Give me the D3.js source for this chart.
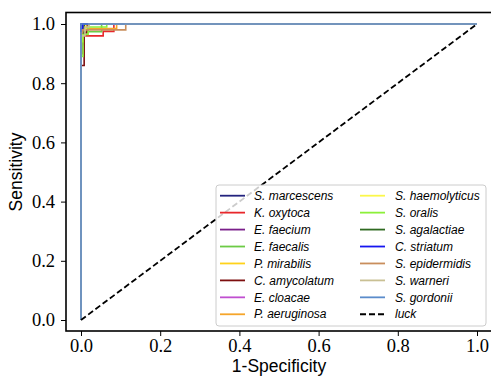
<!DOCTYPE html>
<html><head><meta charset="utf-8">
<script src="https://cdn.jsdelivr.net/npm/d3@7"></script>
<style>body{margin:0;background:#fff;}svg{display:block;}</style>
</head><body>
<svg id="chart" width="491" height="378"></svg>
<script>
// ---- data ----
const classes = ["S. marcescens","K. oxytoca","E. faecium","E. faecalis","P. mirabilis","C. amycolatum","E. cloacae","P. aeruginosa","S. haemolyticus","S. oralis","S. agalactiae","C. striatum","S. epidermidis","S. warneri","S. gordonii"];
const colors = ["#23237e","#e8272b","#7a1f8a","#6ccb45","#ffd21a","#7d0f0f","#c04fd0","#f5a52a","#fbf74a","#8cf03a","#2f6a21","#1616f0","#c98e5c","#c9c094","#5b8ccb"];
const fprs = [
  [0,0,1],
  [0,0,0.005,0.005,0.056,0.056,0.083,0.083,1],
  [0,0,0.003,0.003,0.01,0.01,1],
  [0,0,0.006,0.006,0.052,0.052,1],
  [0,0,0.004,0.004,0.02,0.02,1],
  [0,0,0.008,0.008,0.015,0.015,1],
  [0,0,0.005,0.005,1],
  [0,0,0.003,0.003,0.09,0.09,1],
  [0,0,0.004,0.004,0.012,0.012,1],
  [0,0,0.005,0.005,0.018,0.018,0.065,0.065,1],
  [0,0,0.008,0.008,1],
  [0,0,0.004,0.004,1],
  [0,0,0.004,0.004,0.113,0.113,1],
  [0,0,0.01,0.01,0.02,0.02,1],
  [0,0,1]
];
const tprs = [
  [0,1,1],
  [0,0.93,0.93,0.96,0.96,0.975,0.975,1,1],
  [0,0.9,0.9,0.99,0.99,1,1],
  [0,0.95,0.95,0.974,0.974,1,1],
  [0,0.97,0.97,0.99,0.99,1,1],
  [0,0.86,0.86,0.97,0.97,1,1],
  [0,0.98,0.98,1,1],
  [0,0.96,0.96,0.985,0.985,1,1],
  [0,0.94,0.94,0.985,0.985,1,1],
  [0,0.89,0.89,0.965,0.965,0.99,0.99,1,1],
  [0,0.97,0.97,1,1],
  [0,0.985,0.985,1,1],
  [0,0.97,0.97,0.98,0.98,1,1],
  [0,0.96,0.96,0.99,0.99,1,1],
  [0,1,1]
];
const luckX = [0,1], luckY = [0,1];
const xTicks = [0,0.2,0.4,0.6,0.8,1.0];
const yTicks = [0,0.2,0.4,0.6,0.8,1.0];

// ---- layout ----
const svg = d3.select("#chart");
const box = {left:66, top:12.5, right:492, bottom:331};
const x = d3.scaleLinear().domain([0,1]).range([81,477]);
const y = d3.scaleLinear().domain([0,1]).range([320,24]);

const line = d3.line().x(d=>x(d[0])).y(d=>y(d[1]));

// curves
classes.forEach((c,i)=>{
  const pts = fprs[i].map((f,j)=>[f,tprs[i][j]]);
  svg.append("path").attr("d",line(pts)).attr("fill","none")
    .attr("stroke",colors[i]).attr("stroke-width",1.6).attr("stroke-linejoin","miter");
});
// luck
svg.append("path").attr("d",line(luckX.map((v,j)=>[v,luckY[j]])))
  .attr("fill","none").attr("stroke","#000").attr("stroke-width",1.8).attr("stroke-dasharray","6,3");

// axes
const xAxis = d3.axisBottom(x).tickValues(xTicks).tickFormat(d3.format(".1f")).tickSize(5).tickPadding(3);
const yAxis = d3.axisLeft(y).tickValues(yTicks).tickFormat(d3.format(".1f")).tickSize(5).tickPadding(6);
const gx = svg.append("g").attr("transform",`translate(0,${box.bottom})`).call(xAxis);
const gy = svg.append("g").attr("transform",`translate(${box.left},0)`).call(yAxis);
[gx,gy].forEach(g=>{
  g.select(".domain").remove();
  g.selectAll("text").attr("font-family","'Liberation Serif','Times New Roman',serif").attr("font-size",18.5).attr("fill","#000");
  g.selectAll("line").attr("stroke","#000").attr("stroke-width",1);
});
// frame
svg.append("rect").attr("x",box.left).attr("y",box.top)
  .attr("width",box.right-box.left).attr("height",box.bottom-box.top)
  .attr("fill","none").attr("stroke","#000").attr("stroke-width",1.6);

// titles
svg.append("text").attr("x",(box.left+box.right)/2).attr("y",372).attr("text-anchor","middle")
  .attr("font-family","'Liberation Sans',Arial,sans-serif").attr("font-size",17.5).text("1-Specificity");
svg.append("text").attr("transform",`translate(22,${(y(0)+y(1))/2}) rotate(-90)`).attr("text-anchor","middle")
  .attr("font-family","'Liberation Sans',Arial,sans-serif").attr("font-size",17.5).text("Sensitivity");

// legend
const lg = svg.append("g");
lg.append("rect").attr("x",216).attr("y",185).attr("width",270).attr("height",141).attr("rx",3)
  .attr("fill","#fff").attr("fill-opacity",0.8).attr("stroke","#cccccc").attr("stroke-width",1);
const entries = classes.map((c,i)=>({label:c,color:colors[i],dash:null})).concat([{label:"luck",color:"#000",dash:"6,3"}]);
entries.forEach((e,i)=>{
  const col = Math.floor(i/8), row = i%8;
  const lx = col===0?220:360, tx = col===0?254:395;
  const ly = 195.7 + row*16.94;
  lg.append("line").attr("x1",lx).attr("x2",lx+25).attr("y1",ly).attr("y2",ly)
    .attr("stroke",e.color).attr("stroke-width",e.dash?2:1.8).attr("stroke-dasharray",e.dash);
  lg.append("text").attr("x",tx).attr("y",ly).attr("dy","0.35em")
    .attr("font-family","'Liberation Sans',Arial,sans-serif").attr("font-style","italic").attr("font-size",12).text(e.label);
});
</script>
</body></html>
